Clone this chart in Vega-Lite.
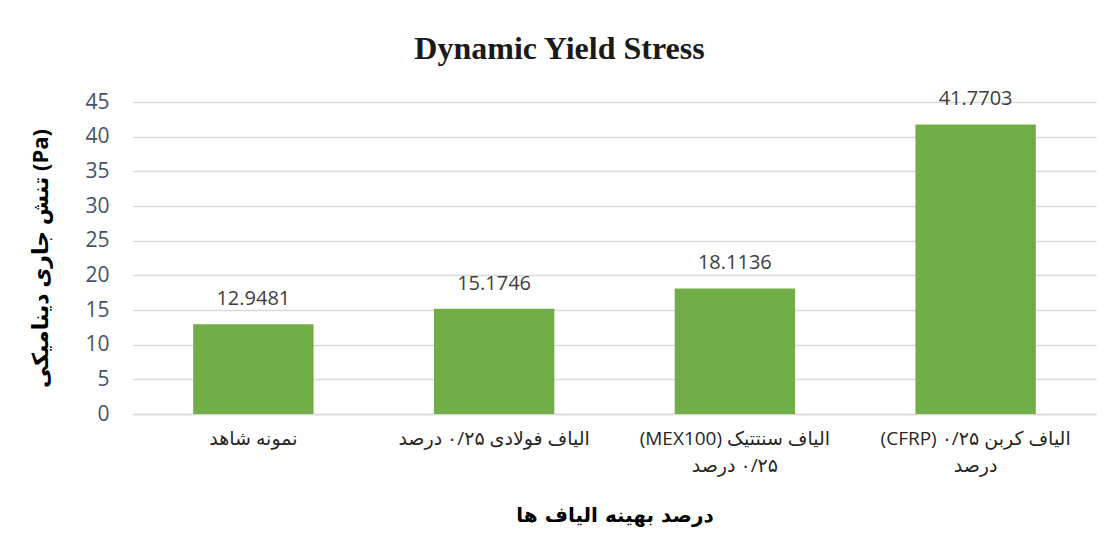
{
  "$schema": "https://vega.github.io/schema/vega-lite/v6.json",
  "width": 963,
  "height": 312,
  "autosize": {"type": "none"},
  "padding": {"left": 133, "top": 102, "right": 22, "bottom": 142},
  "background": "white",
  "config": {"view": {"stroke": null}},
  "title": {
    "text": "Dynamic Yield Stress",
    "font": "Liberation Serif",
    "fontSize": 32,
    "fontWeight": "bold",
    "color": "#1a1a1a",
    "anchor": "middle",
    "frame": "group",
    "dx": -55,
    "offset": 23
  },
  "data": {
    "values": [
      {"group": "نمونه شاهد", "value": 12.9481},
      {"group": "الیاف فولادی ۰/۲۵ درصد", "value": 15.1746},
      {"group": "الیاف سنتتیک (MEX100)|۰/۲۵ درصد", "value": 18.1136},
      {"group": "الیاف کربن ۰/۲۵ (CFRP)|درصد", "value": 41.7703}
    ]
  },
  "encoding": {
    "x": {
      "field": "group",
      "type": "nominal",
      "sort": null,
      "scale": {"paddingInner": 0.5, "paddingOuter": 0.25},
      "axis": {
        "title": "درصد بهینه الیاف ها",
        "titleFont": "DejaVu Sans",
        "titleFontSize": 20,
        "titleFontWeight": "bold",
        "titleColor": "#000000",
        "titlePadding": 30,
        "labelExpr": "split('\u202b' + replace(datum.label, '|', '\u202c|\u202b') + '\u202c', '|')",
        "labelFont": "Open Sans, DejaVu Sans",
        "labelFontSize": 19,
        "labelColor": "#262626",
        "labelAngle": 0,
        "labelLimit": 0,
        "labelPadding": 15,
        "labelLineHeight": 27,
        "ticks": false,
        "tickSize": 0,
        "domain": true,
        "domainColor": "#d9d9d9",
        "domainWidth": 1.5
      }
    },
    "y": {
      "field": "value",
      "type": "quantitative",
      "scale": {"domain": [0, 45], "nice": false},
      "axis": {
        "title": "تنش جاری دینامیکی (Pa)",
        "titleFont": "Open Sans, DejaVu Sans",
        "titleFontSize": 22,
        "titleFontWeight": "bold",
        "titleColor": "#000000",
        "titlePadding": 32,
        "values": [0, 5, 10, 15, 20, 25, 30, 35, 40, 45],
        "labelFont": "Open Sans",
        "labelFontSize": 21,
        "labelColor": "#44546A",
        "labelPadding": 24,
        "ticks": false,
        "tickSize": 0,
        "domain": false,
        "grid": true,
        "gridColor": "#d9d9d9",
        "gridWidth": 1.5
      }
    }
  },
  "layer": [
    {"mark": {"type": "bar", "color": "#70AD47"}},
    {
      "mark": {
        "type": "text",
        "baseline": "middle",
        "dy": -25,
        "font": "Open Sans",
        "fontSize": 20,
        "color": "#404040"
      },
      "encoding": {"text": {"field": "value", "type": "quantitative", "format": ".4f"}}
    }
  ]
}
